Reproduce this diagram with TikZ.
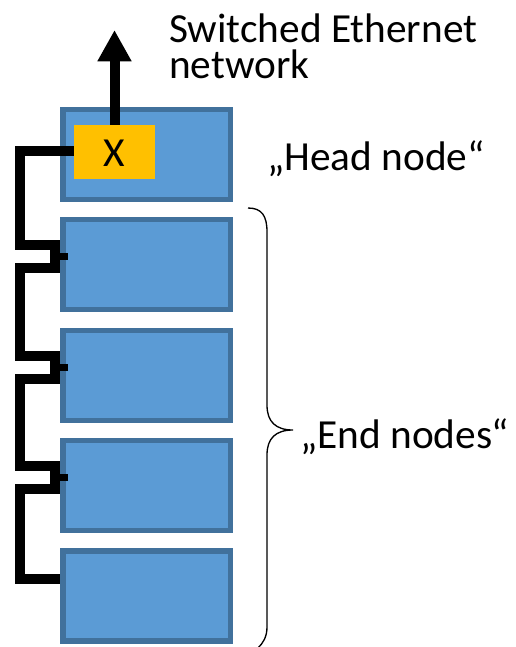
\documentclass[tikz,border=0pt]{standalone}
\usepackage{fontspec}
\setmainfont{Carlito}
\usetikzlibrary{arrows.meta,calc}
\definecolor{boxfill}{HTML}{5B9BD5}
\definecolor{boxline}{HTML}{41719C}
\definecolor{swfill}{HTML}{FFC000}
\begin{document}
\begin{tikzpicture}[x=0.75pt,y=-0.75pt,
  unit/.style={draw=boxline,fill=boxfill,line width=4.1pt,minimum width=125.6pt,minimum height=67.5pt,inner sep=0pt},
  switchbox/.style={fill=swfill,minimum width=60.75pt,minimum height=40.5pt,inner sep=0pt},
  label/.style={font=\fontsize{31}{27}\selectfont,inner sep=0pt},
  wire/.style={line width=7.5pt,line join=miter},
  stubline/.style={line width=4.8pt}]
\useasboundingbox (0,0) rectangle (516,647);
% boxes
\node[unit] (head) at (146.5,154.5) {};
\node[unit] (e1) at (146.5,264.5) {};
\node[unit] (e2) at (146.5,375.5) {};
\node[unit] (e3) at (146.5,485.5) {};
\node[unit] (e4) at (146.5,596) {};
\node[switchbox] (sw) at (114.5,152) {};
\node[label,anchor=base] (x) at (114.5,166) {X};
% uplink arrow
\coordinate (net) at (114.5,30);
\draw[wire,-{Triangle[width=24pt,length=23.5pt]}] (sw.north) -- (net);
% chain wiring
\coordinate (col) at (20,0);
\coordinate (start) at ($(sw.west)+(0,-1.5)$);
\foreach \i in {1,2,3}{
  \coordinate (t\i) at ($(e\i.west)+(-5,-20)$);
  \coordinate (b\i) at ($(e\i.west)+(-5,3)$);
  \draw[stubline] ($(e\i.west)+(0,-8)$) -- ++(8,0);
}
\coordinate (last) at ($(e4.west)+(0,-17)$);
\draw[wire] (start) -- (start -| col)
  -- (t1 -| col) -- (t1) -- (b1) -- (b1 -| col)
  -- (t2 -| col) -- (t2) -- (b2) -- (b2 -| col)
  -- (t3 -| col) -- (t3) -- (b3) -- (b3 -| col)
  -- (last -| col) -- (last);
% labels
\node[label,align=left,anchor=base west] (l1) at (169,78) {Switched Ethernet\\network};
\node[label,anchor=base west] (hl) at (267,170) {„Head node“};
\node[label,anchor=base west] (el) at (300,448) {„End nodes“};
% brace
\draw[line width=1pt] (248,208) .. controls (262,208) and (267,216) .. (267,232)
  -- (267,405) .. controls (267,422) and (276,430) .. (293,430)
  .. controls (276,430) and (267,438) .. (267,455)
  -- (267,627) .. controls (267,637) and (263,643) .. (258,648);
\end{tikzpicture}
\end{document}
